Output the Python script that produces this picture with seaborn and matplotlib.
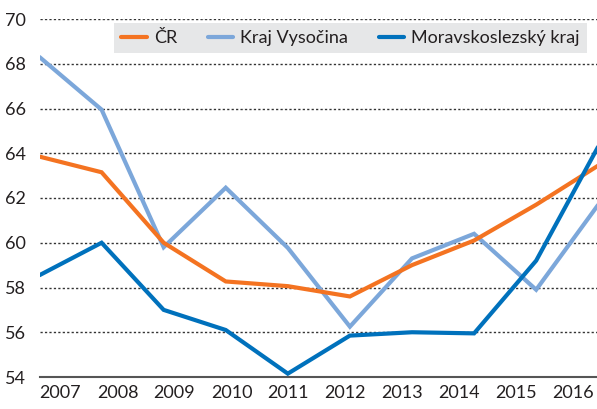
import pandas as pd
import matplotlib.pyplot as plt
import seaborn as sns

years = ["2007", "2008", "2009", "2010", "2011", "2012", "2013", "2014", "2015", "2016"]
cr = [63.85, 63.15, 60.0, 58.27, 58.06, 57.6, 59.0, 60.1, 61.7, 63.45]
vysocina = [68.3, 65.95, 59.8, 62.46, 59.77, 56.25, 59.3, 60.4, 57.9, 61.7]
msk = [58.55, 60.0, 57.0, 56.1, 54.15, 55.85, 56.0, 55.95, 59.2, 64.3]

names = ["ČR", "Kraj Vysočina", "Moravskoslezský kraj"]
colors = ["#f47321", "#7ca7da", "#0071bc"]

df = pd.DataFrame({
    "x": list(range(len(years))) * 3,
    "value": cr + vysocina + msk,
    "series": [n for n in names for _ in years],
})

sns.set_theme(style="white")
plt.rcParams["font.family"] = ["Lato", "DejaVu Sans"]

fig = plt.figure(figsize=(5.97, 4.09), dpi=100)
ax = fig.add_axes([39.5 / 597, 32 / 409, 1 - 39.5 / 597, 358 / 409])

sns.lineplot(data=df, x="x", y="value", hue="series", hue_order=names,
             palette=colors, linewidth=3, ax=ax, legend=False)
for line, z in zip(ax.lines, [3, 2, 4]):
    line.set_zorder(z)
    line.set_solid_joinstyle("miter")

ax.set_xlim(0, 8.98)
ax.set_ylim(54, 70)
ax.set_yticks(range(54, 71, 2))
ax.set_xticks([0.338 + 0.918 * i for i in range(len(years))])
ax.set_xticklabels(years)
ax.set_xlabel("")
ax.set_ylabel("")
ax.tick_params(axis="both", length=0, labelsize=13, colors="#231f20")
ax.tick_params(axis="y", pad=10)
ax.tick_params(axis="x", pad=6)

ax.yaxis.grid(True, color="#333333", linestyle=(0, (1.6, 1.6)), linewidth=1)
ax.set_axisbelow(True)
for s in ["top", "right", "left"]:
    ax.spines[s].set_visible(False)
ax.spines["bottom"].set_color("#555555")
ax.spines["bottom"].set_linewidth(1.5)
ax.spines["bottom"].set_zorder(5)

handles = [plt.Line2D([], [], color=c, linewidth=3) for c in colors]
leg = fig.legend(handles, names, ncol=3, loc="upper right",
                 bbox_to_anchor=(587 / 597, 1 - 23 / 409), frameon=True,
                 fancybox=False, fontsize=13, handlelength=1.4,
                 handletextpad=0.4, columnspacing=1.7, borderpad=0.4,
                 borderaxespad=0)
leg.get_frame().set_facecolor("#e6e7e8")
leg.get_frame().set_edgecolor("none")
leg.get_frame().set_alpha(1)
for t in leg.get_texts():
    t.set_color("#231f20")

fig.savefig("out.png", dpi=100)
